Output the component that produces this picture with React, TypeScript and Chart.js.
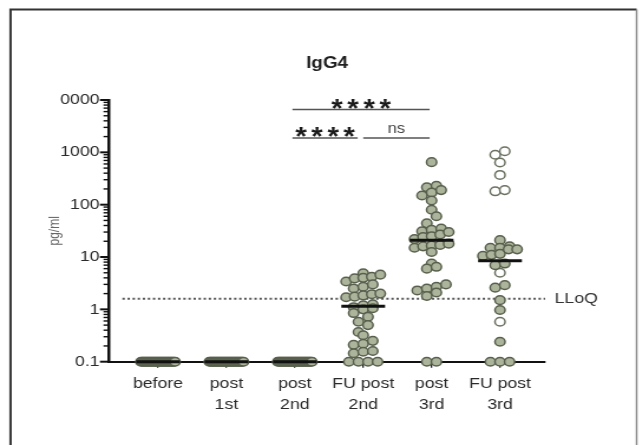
import React, { useEffect, useRef } from 'react';
import { Chart, registerables } from 'chart.js';

Chart.register(...registerables);

// ---------- data ----------
const categories = [['before'], ['post', '1st'], ['post', '2nd'], ['FU post', '2nd'], ['post', '3rd'], ['FU post', '3rd']];

const before = [0.1, 0.1, 0.1, 0.1, 0.1, 0.1, 0.1, 0.1, 0.1, 0.1, 0.1, 0.1, 0.1, 0.1, 0.1, 0.1, 0.1, 0.1, 0.1, 0.1, 0.1, 0.1, 0.1, 0.1, 0.1, 0.1, 0.1, 0.1, 0.1, 0.1];
const post1st = [0.1, 0.1, 0.1, 0.1, 0.1, 0.1, 0.1, 0.1, 0.1, 0.1, 0.1, 0.1, 0.1, 0.1, 0.1, 0.1, 0.1, 0.1, 0.1, 0.1, 0.1, 0.1, 0.1, 0.1, 0.1, 0.1, 0.1, 0.1, 0.1, 0.1];
const post2nd = [0.1, 0.1, 0.1, 0.1, 0.1, 0.1, 0.1, 0.1, 0.1, 0.1, 0.1, 0.1, 0.1, 0.1, 0.1, 0.1, 0.1, 0.1, 0.1, 0.1, 0.1, 0.1, 0.1, 0.1, 0.1, 0.1, 0.1, 0.1, 0.1, 0.1];
const fuPost2nd = [4.9, 4.6, 4.2, 4.0, 3.9, 3.4, 3.0, 2.7, 2.5, 2.0, 1.95, 1.85, 1.75, 1.7, 1.25, 1.2, 1.1, 1.05, 1.0, 0.85, 0.72, 0.58, 0.5, 0.37, 0.32, 0.25, 0.22, 0.21, 0.16, 0.155, 0.145, 0.1, 0.1, 0.1, 0.1];
const post3rd = [650, 230, 215, 190, 170, 150, 120, 80, 60, 44, 35, 33, 31, 30, 27, 25, 24, 22, 18, 17, 16.5, 16, 15, 12.5, 7.5, 6.5, 6.0, 3.0, 2.7, 2.5, 2.3, 2.1, 1.8, 0.1, 0.1];
const fuPost3rdFilled = [21, 16, 15, 15, 14, 14, 11.5, 11, 10.5, 7.5, 7.0, 2.9, 2.6, 1.5, 0.97, 0.24, 0.1, 0.1, 0.1];
const fuPost3rdOpen = [1050, 900, 640, 370, 190, 180, 5.0, 0.58];

const medians = [0.1, 0.1, 0.1, 1.15, 21, 8.5];
const LLOQ = 1.6;
const lloqLabel = 'LLoQ';
const yDecades = [0.1, 1, 10, 100, 1000, 10000];
const yTickLabels = ['0.1', '1', '10', '100', '1000', '0000'];
const comparisons = [
  { from: 2, to: 4, label: '****', row: 0 },
  { from: 2, to: 3, label: '****', row: 1 },
  { from: 3, to: 4, label: 'ns', row: 1 },
];
const chartTitle = 'IgG4';
const yTitle = 'pg/ml';

// ---------- layout / style ----------
const S = 1.18; // reference is horizontally stretched
const W = 545;
const H = 445;
const FONT = "'Liberation Sans', Arial, Helvetica, sans-serif";
const FILL = '#adb49c';
const EDGE = '#58604d';

type Item = { v: number; open: boolean };

function swarm(items: Item[], cat: number) {
  const binH = 0.16;
  const dx = 0.14;
  const maxHalf = 0.25;
  const bins = new Map<number, Item[]>();
  items.forEach((it) => {
    const k = Math.round((Math.log10(it.v) + 1) / binH);
    if (!bins.has(k)) bins.set(k, []);
    bins.get(k)!.push(it);
  });
  const out: { x: number; y: number; open: boolean }[] = [];
  bins.forEach((list) => {
    list.sort((a, b) => a.v - b.v);
    const n = list.length;
    const step = n > 1 ? Math.min(dx, (2 * maxHalf) / (n - 1)) : 0;
    list.forEach((it, j) => out.push({ x: cat + (j - (n - 1) / 2) * step, y: it.v, open: it.open }));
  });
  return out;
}

const groups: Item[][] = [
  before.map((v) => ({ v, open: false })),
  post1st.map((v) => ({ v, open: false })),
  post2nd.map((v) => ({ v, open: false })),
  fuPost2nd.map((v) => ({ v, open: false })),
  post3rd.map((v) => ({ v, open: false })),
  [...fuPost3rdFilled.map((v) => ({ v, open: false })), ...fuPost3rdOpen.map((v) => ({ v, open: true }))],
];

const allPts = groups.flatMap((g, i) => swarm(g, i));
const filledPts = allPts.filter((p) => !p.open).map((p) => ({ x: p.x, y: p.y }));
const openPts = allPts.filter((p) => p.open).map((p) => ({ x: p.x, y: p.y }));

const medianPts: any[] = [];
medians.forEach((m, i) => {
  medianPts.push({ x: i - 0.32, y: m }, { x: i + 0.32, y: m }, { x: i + 0.5, y: null });
});

const decorPlugin = {
  id: 'decor',
  beforeDraw(chart: any) {
    const ctx = chart.ctx;
    ctx.save();
    ctx.strokeStyle = '#333';
    ctx.lineWidth = 2;
    ctx.beginPath();
    ctx.moveTo(8.9, H);
    ctx.lineTo(8.9, 9.5);
    ctx.lineTo(539.5, 9.5);
    ctx.stroke();
    ctx.strokeStyle = '#888';
    ctx.lineWidth = 1.5;
    ctx.beginPath();
    ctx.moveTo(539.5, 9.5);
    ctx.lineTo(539.5, H);
    ctx.stroke();
    ctx.restore();
  },
  afterDraw(chart: any) {
    const ctx = chart.ctx;
    const ca = chart.chartArea;
    const xs = chart.scales.x;
    const ys = chart.scales.y;
    ctx.save();
    // y tick marks (major / minor)
    ctx.strokeStyle = '#111';
    ys.ticks.forEach((t: any) => {
      const py = ys.getPixelForValue(t.value);
      const len = t.major ? 6.5 : 3.5;
      ctx.lineWidth = t.major ? 2 : 1.4;
      ctx.beginPath();
      ctx.moveTo(ca.left - 1.2 - len, py);
      ctx.lineTo(ca.left, py);
      ctx.stroke();
    });
    // LLoQ label
    ctx.fillStyle = '#333';
    ctx.font = `15px ${FONT}`;
    ctx.textAlign = 'left';
    ctx.textBaseline = 'middle';
    ctx.fillText(lloqLabel, 470, ys.getPixelForValue(LLOQ));
    // significance bars
    const rowY = [9.5, 38];
    comparisons.forEach((c) => {
      const y = ca.top + rowY[c.row];
      let x1 = xs.getPixelForValue(c.from) - 2;
      let x2 = xs.getPixelForValue(c.to) - 1.7;
      if (comparisons.some((o) => o !== c && o.row === c.row && o.from === c.to)) x2 -= 3;
      if (comparisons.some((o) => o !== c && o.row === c.row && o.to === c.from)) x1 += 2;
      ctx.strokeStyle = '#555';
      ctx.lineWidth = 1.4;
      ctx.beginPath();
      ctx.moveTo(x1, y);
      ctx.lineTo(x2, y);
      ctx.stroke();
      const cx = (x1 + x2) / 2;
      if (/^\*+$/.test(c.label)) {
        const fs = 25;
        ctx.font = `bold ${fs}px ${FONT}`;
        ctx.fillStyle = '#1a1a1a';
        ctx.textAlign = 'center';
        ctx.textBaseline = 'alphabetic';
        const n = c.label.length;
        const sp = 13.6;
        for (let k = 0; k < n; k++) {
          ctx.fillText(c.label[k], cx + (k - (n - 1) / 2) * sp, y - 7 + 0.575 * fs);
        }
      } else {
        ctx.font = `14px ${FONT}`;
        ctx.fillStyle = '#444';
        ctx.textAlign = 'center';
        ctx.textBaseline = 'middle';
        ctx.fillText(c.label, cx, y - 9);
      }
    });
    ctx.restore();
  },
};

export default function App() {
  const ref = useRef<HTMLCanvasElement>(null);
  useEffect(() => {
    const chart = new Chart(ref.current as HTMLCanvasElement, {
      type: 'scatter',
      data: {
        datasets: [
          {
            type: 'line',
            data: [{ x: -0.52, y: LLOQ }, { x: 5.66, y: LLOQ }],
            borderColor: '#555',
            borderWidth: 2,
            borderDash: [2, 2.3],
            pointRadius: 0,
            order: 3,
            clip: false,
          } as any,
          {
            data: filledPts,
            backgroundColor: FILL,
            borderColor: EDGE,
            borderWidth: 1.5,
            pointRadius: 4.3,
            order: 2,
            clip: false,
          },
          {
            data: openPts,
            backgroundColor: '#ffffff',
            borderColor: '#6a7160',
            borderWidth: 1.5,
            pointRadius: 4.3,
            order: 2,
            clip: false,
          },
          {
            type: 'line',
            data: medianPts,
            borderColor: '#111',
            borderWidth: 3,
            pointRadius: 0,
            spanGaps: false,
            order: 1,
            clip: false,
          } as any,
        ],
      },
      options: {
        animation: false,
        responsive: false,
        devicePixelRatio: 1,
        layout: { padding: { left: 0, right: 83, top: 0, bottom: 0 } },
        plugins: {
          legend: { display: false },
          tooltip: { enabled: false },
          title: {
            display: true,
            text: chartTitle,
            fullSize: false,
            color: '#1e1e1e',
            font: { family: FONT, size: 16, weight: 'bold', lineHeight: 1.2 },
            padding: { top: 54, bottom: 26.8 },
          },
        },
        scales: {
          x: {
            type: 'linear',
            min: -0.716,
            max: 5.66,
            afterBuildTicks: (s: any) => {
              s.ticks = categories.map((_, i) => ({ value: i }));
            },
            afterFit: (s: any) => {
              s.height = 83.3;
            },
            grid: { display: true, drawOnChartArea: false, drawTicks: true, tickLength: 6, color: '#222', lineWidth: 1.3 },
            border: { display: true, color: '#111', width: 2 },
            ticks: {
              autoSkip: false,
              maxRotation: 0,
              minRotation: 0,
              padding: 5,
              color: '#2a2a2a',
              font: { family: FONT, size: 15, lineHeight: 1.45 },
              callback: (v: any) => categories[v as number] ?? '',
            },
          },
          y: {
            type: 'logarithmic',
            min: 0.1,
            max: 10000,
            afterBuildTicks: (s: any) => {
              const t: any[] = [];
              yDecades.forEach((d) => {
                for (let k = 1; k <= 9; k++) {
                  const v = d * k;
                  if (v <= 10000 + 1e-9) t.push({ value: v, major: k === 1 });
                }
              });
              s.ticks = t;
            },
            afterFit: (s: any) => {
              s.width = 92.4;
            },
            grid: { display: false, drawTicks: false },
            border: { display: true, color: '#111', width: 2.5 },
            title: {
              display: true,
              text: yTitle,
              color: '#666',
              font: { family: FONT, size: 12 },
              padding: { top: 39, bottom: 0 },
            },
            ticks: {
              autoSkip: false,
              padding: 8,
              color: '#2a2a2a',
              font: { family: FONT, size: 15 },
              callback: (v: any, i: number, ticks: any[]) => {
                if (!ticks[i] || !ticks[i].major) return '';
                const idx = yDecades.indexOf(v as number);
                return idx >= 0 ? yTickLabels[idx] : '';
              },
            },
          },
        },
      },
      plugins: [decorPlugin],
    } as any);
    return () => chart.destroy();
  }, []);

  return (
    <div style={{ position: 'fixed', left: 0, top: 0, width: 643, height: 445, overflow: 'hidden', background: '#fff' }}>
      <canvas
        ref={ref}
        width={W}
        height={H}
        style={{ display: 'block', width: W, height: H, transform: `scaleX(${S})`, transformOrigin: '0 0' }}
      />
    </div>
  );
}
